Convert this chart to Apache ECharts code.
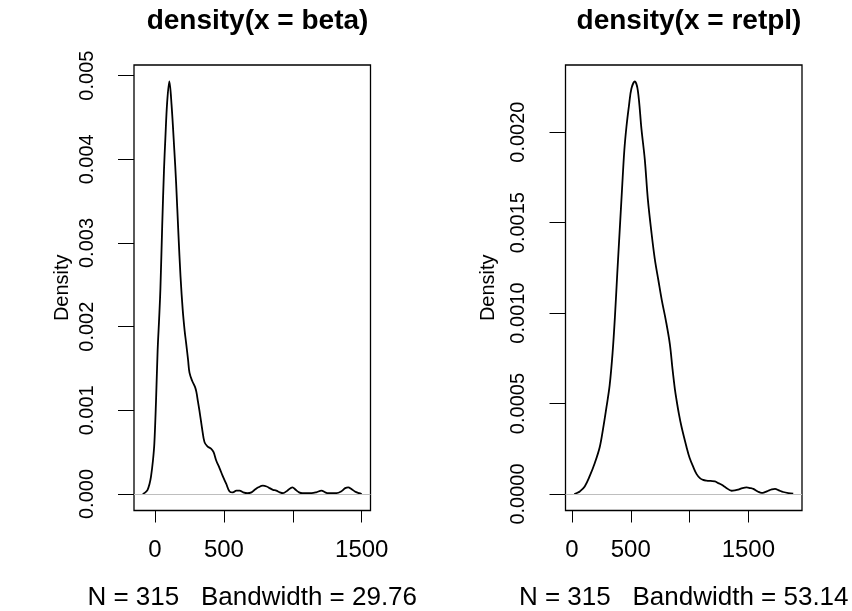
<!DOCTYPE html>
<html>
<head>
<meta charset="utf-8">
<script src="https://cdn.jsdelivr.net/npm/echarts@6/dist/echarts.min.js"></script>
<style>html,body{margin:0;padding:0;background:#fff}#c{width:852px;height:611px}</style>
</head>
<body>
<div id="c"></div>
<script>
// ---- Data ----
const titles = ['density(x = beta)', 'density(x = retpl)'];
const subLabels = ['N = 315   Bandwidth = 29.76', 'N = 315   Bandwidth = 53.14'];
const yLabel = 'Density';

const betaX = [-89,-70,-54,-40,-29,-15,-5,7,19,30,39,52,65,75,88,104,120,140,153,170,185,201,215,226,240,250,270,290,300,312,322,340,359,380,408,425,444,468,490,517,541,565,590,614,640,670,700,723,750,783,810,832,856,880,905,929,960,997,1020,1045,1070,1100,1136,1170,1208,1235,1256,1290,1317,1350,1380,1402,1425,1450,1480,1500];
const betaY = [0,0.00002,0.00005,0.00012,0.00021,0.0004,0.0006,0.0011,0.00172,0.0021,0.00245,0.0032,0.00387,0.00425,0.00468,0.00493,0.00465,0.00411,0.00372,0.0031,0.0026,0.0022,0.00195,0.0018,0.0016,0.00145,0.00135,0.00128,0.00122,0.0011,0.001,0.0008,0.00062,0.00057,0.00054,0.0005,0.0004,0.00031,0.00022,0.00012,0.00003,0.00002,0.00004,0.00004,0.00002,0.00001,0.00002,0.00005,0.00008,0.0001,0.00009,0.00007,0.00005,0.00004,0.00002,0.00001,0.00004,0.00008,0.00005,0.00002,0.00001,0.00001,0.00001,0.00002,0.00004,0.00002,0.00001,0.00001,0.00001,0.00003,0.00007,0.00008,0.00006,0.00003,0.00001,0];

const retplX = [19,40,66,108,151,193,236,264,293,320,345,365,385,405,425,445,463,485,505,534,560,591,619,645,675,704,735,764,798,832,855,875,889,910,932,974,1000,1031,1060,1088,1115,1145,1180,1216,1245,1273,1310,1358,1385,1414,1450,1486,1515,1542,1580,1613,1640,1670,1700,1727,1760,1797,1840,1882];
const retplY = [0,0.000005,0.000014,0.000042,0.0001,0.00017,0.00026,0.00036,0.00048,0.0006,0.00078,0.00098,0.00122,0.00145,0.00168,0.0019,0.00203,0.00215,0.00224,0.00228,0.00223,0.002015,0.00185,0.00163,0.00145,0.0013,0.00118,0.00107,0.00096,0.00083,0.00069,0.00058,0.00052,0.00044,0.00037,0.00026,0.0002,0.00015,0.00011,0.000088,0.000078,0.000074,0.000072,0.00007,0.00006,0.000051,0.000035,0.000018,0.00002,0.000024,0.000033,0.000037,0.000033,0.000028,0.000014,0.000006,0.00001,0.000018,0.000025,0.000028,0.00002,0.000011,0.000005,0.000002];

const xTicks = [0, 500, 1000, 1500];
const xTickLabels = [0, 500, 1500];
const betaYTicks = [0, 0.001, 0.002, 0.003, 0.004, 0.005];
const betaYTickLabels = ['0.000','0.001','0.002','0.003','0.004','0.005'];
const retplYTicks = [0, 0.0005, 0.001, 0.0015, 0.002];
const retplYTickLabels = ['0.0000','0.0005','0.0010','0.0015','0.0020'];

// ---- Chart ----
const FONT = '"Liberation Sans", Arial, Helvetica, sans-serif';
function pairs(xs, ys) { return xs.map((x, i) => [x, ys[i]]); }
function rng(a, b) { const d = b - a; return [a - 0.04 * d, b + 0.04 * d]; }
function yr(ys) { const m = Math.max(...ys); return [-0.04 * m, 1.04 * m]; }

const bx = rng(betaX[0], betaX[betaX.length - 1]);
const rx = rng(retplX[0], retplX[retplX.length - 1]);
const by = yr(betaY), ry = yr(retplY);

function fmtFrom(ticks, labels) {
  return v => { for (let i = 0; i < ticks.length; i++) if (Math.abs(ticks[i] - v) < 1e-9) return labels[i]; return ''; };
}

function xAxis(gi, r, name) {
  return {
    type: 'value', gridIndex: gi, min: r[0], max: r[1],
    splitLine: { show: false },
    axisLine: { show: false, onZero: false },
    axisTick: { show: true, length: 12, customValues: xTicks, lineStyle: { color: '#000', width: 1 } },
    axisLabel: { customValues: xTickLabels, formatter: v => String(v), fontFamily: FONT, fontSize: 24, color: '#000', margin: 28, showMinLabel: true, showMaxLabel: true },
    name: name, nameLocation: 'middle', nameGap: 74,
    nameTextStyle: { fontFamily: FONT, fontSize: 26, color: '#000' }
  };
}
function yAxis(gi, r, ticks, labels, gap) {
  return {
    type: 'value', gridIndex: gi, min: r[0], max: r[1],
    splitLine: { show: false },
    axisLine: { show: false, onZero: false },
    axisTick: { show: true, length: 16, customValues: ticks, lineStyle: { color: '#000', width: 1 } },
    axisLabel: { customValues: ticks, rotate: 90, formatter: fmtFrom(ticks, labels), fontFamily: FONT, fontSize: 20, color: '#000', margin: 37 },
    name: yLabel, nameLocation: 'middle', nameRotate: 90, nameGap: gap,
    nameTextStyle: { fontFamily: FONT, fontSize: 20, color: '#000' }
  };
}
function series(xi, data) {
  return {
    type: 'line', xAxisIndex: xi, yAxisIndex: xi, data: data,
    showSymbol: false, smooth: 0.35, animation: false,
    lineStyle: { color: '#000', width: 1.8 },
    markLine: { silent: true, symbol: 'none', animation: false, label: { show: false },
      lineStyle: { color: '#bebebe', type: 'solid', width: 1 }, data: [{ yAxis: 0 }] }
  };
}

const chart = echarts.init(document.getElementById('c'), null, { renderer: 'canvas' });
chart.setOption({
  animation: false,
  backgroundColor: '#fff',
  title: [
    { text: titles[0], left: 252.5, top: 2, textAlign: 'center', textStyle: { fontFamily: FONT, fontSize: 28, fontWeight: 'bold', color: '#000' } },
    { text: titles[1], left: 684, top: 2, textAlign: 'center', textStyle: { fontFamily: FONT, fontSize: 28, fontWeight: 'bold', color: '#000' } }
  ],
  grid: [
    { left: 134, top: 65, width: 236.5, height: 445.5, show: true, borderColor: '#000', borderWidth: 1.3, backgroundColor: 'transparent', containLabel: false, outerBoundsMode: 'none' },
    { left: 565.5, top: 65, width: 236.5, height: 445.5, show: true, borderColor: '#000', borderWidth: 1.3, backgroundColor: 'transparent', containLabel: false, outerBoundsMode: 'none' }
  ],
  xAxis: [xAxis(0, bx, subLabels[0]), xAxis(1, rx, subLabels[1])],
  yAxis: [yAxis(0, by, betaYTicks, betaYTickLabels, 62), yAxis(1, ry, retplYTicks, retplYTickLabels, 67)],
  series: [series(0, pairs(betaX, betaY)), series(1, pairs(retplX, retplY))]
});
</script>
</body>
</html>
